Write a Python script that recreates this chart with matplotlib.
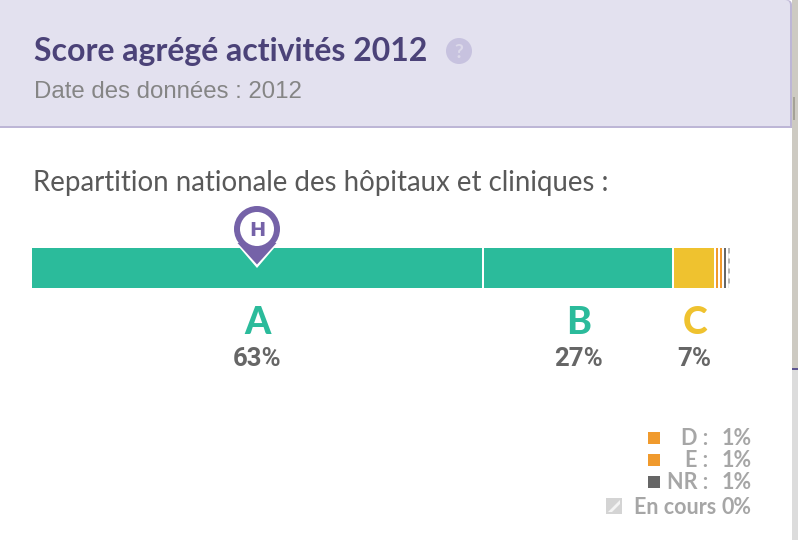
import matplotlib
matplotlib.use("Agg")
import matplotlib.pyplot as plt
from matplotlib.patches import Rectangle, Circle, Polygon, FancyBboxPatch

W, H = 798, 540

# ---- data ----
grades = ["A", "B", "C", "D", "E", "NR", "En cours"]
bar_widths = [64.57, 27.14, 6.0, 0.57, 0.57, 0.57, 0.58]
labels_main = ["A", "B", "C"]
labels_main_pct = ["63%", "27%", "7%"]
legend_names = ["D :", "E :", "NR :"]
legend_pct = ["1%", "1%", "1%"]
pending_name = "En cours"
pending_pct = "0%"

TEAL, YELLOW, ORANGE, DARK = "#2bbb9b", "#efc22f", "#f09a2d", "#666666"
PURPLE, GREY = "#4b4278", "#a6a6a6"
PIN = "#7562a8"
colors = [TEAL, TEAL, YELLOW, ORANGE, ORANGE, DARK, "#b8b8b8"]

fig = plt.figure(figsize=(W / 100, H / 100), dpi=100, facecolor="white")
bg = fig.add_axes([0, 0, 1, 1])
bg.set_xlim(0, W)
bg.set_ylim(H, 0)
bg.axis("off")
bg.set_zorder(5)
bg.patch.set_alpha(0)

def T(x, y, s, **kw):
    kw.setdefault("va", "center_baseline")
    return bg.text(x, y, s, **kw)

# panel backgrounds
bg.add_patch(Rectangle((792, 0), 6, H, color="#cdcac2", lw=0))
bg.add_patch(Rectangle((792, 368), 6, 2, color="#5d5590", lw=0))
bg.add_patch(Rectangle((792, 370), 6, 170, color="#dcdcdc", lw=0))
bg.add_patch(FancyBboxPatch((-10, 0), 802, 140, boxstyle="round,pad=0,rounding_size=5", color="#bdb6d6", lw=0))
bg.add_patch(Rectangle((0, 128), 792, 20, color="white", lw=0))
bg.add_patch(FancyBboxPatch((-10, 0), 800, 126, boxstyle="round,pad=0,rounding_size=5", color="#e3e1ef", lw=0))
bg.add_patch(Rectangle((0, 20), 790, 106, color="#e3e1ef", lw=0))
bg.add_patch(Rectangle((793, 97), 2, 23, color="#a5a297", lw=0))

# header
T(34, 49.5, "Score agrégé activités 2012", family="Lato", weight="bold", fontsize=23, color=PURPLE)
bg.add_patch(Circle((459, 51), 13, color="#c7c2df", lw=0))
T(459, 51.5, "?", family="Lato", weight="bold", fontsize=14, color="#dcd9ea", ha="center")
T(34, 90, "Date des données : 2012", family="Liberation Sans", fontsize=17.25, color="#858585")
T(33, 181, "Repartition nationale des hôpitaux et cliniques :", family="Lato", fontsize=19.93, color="#595959")

# stacked bar
ax = fig.add_axes([31 / W, 1 - 288 / H, 700 / W, 40 / H])
ax.set_xlim(0, 100)
ax.set_ylim(0, 1)
ax.axis("off")
left = 0
for name, w, c in zip(grades, bar_widths, colors):
    ax.barh(0.5, w, left=left, height=1, color=c, edgecolor="none")
    left += w
ax.axvline(0, color="white", lw=1.44)
left = 0
for w in bar_widths:
    left += w
    ax.axvline(left, color="white", lw=1.44)
ax.vlines(100 - bar_widths[-1] / 2, 0, 1, color="white", lw=1.8, linestyles=(0, (2, 2)))

# marker
mx = 257
bg.add_patch(Polygon([(233, 240), (281, 240), (257, 268)], closed=True, color="white", lw=0))
bg.add_patch(Polygon([(237.5, 243), (276.5, 243), (257, 264.5)], closed=True, color=PIN, lw=0))
bg.add_patch(Circle((mx, 229), 23, color=PIN, lw=0))
bg.add_patch(Circle((mx, 229), 17, color="white", lw=0))
T(mx, 229, "H", family="DejaVu Sans", weight="bold", fontsize=14, color=PIN, ha="center")

# main labels
for x, l, p, c in zip([258, 579, 695], labels_main, labels_main_pct, [TEAL, TEAL, YELLOW]):
    T(x, 320.5, l, family="Lato", weight="black", fontsize=27, color=c, ha="center")
    T(x - 0.5, 356, p, family="Roboto", weight="bold", fontsize=18.5, color="#666666", ha="center")

# legend
ys = [437, 459, 481]
for y, n, p, c in zip(ys, legend_names, legend_pct, [ORANGE, ORANGE, DARK]):
    bg.add_patch(Rectangle((648, y - 5.5), 12, 12, color=c, lw=0))
    T(708, y - 0.5, n, family="Lato", weight="bold", fontsize=15.5, color=GREY, ha="right")
    T(751.5, y - 0.5, p, family="Lato", weight="bold", fontsize=15.5, color=GREY, ha="right")
bg.add_patch(Rectangle((606, 498), 16, 16, color="#d4d4d4", lw=0))
bg.add_patch(Polygon([(608, 512), (620, 500), (620, 504), (612, 512)], closed=True, color="#f4f4f4", lw=0))
T(634, 506, pending_name, family="Lato", weight="bold", fontsize=15.5, color=GREY)
T(751.5, 506, pending_pct, family="Lato", weight="bold", fontsize=15.5, color=GREY, ha="right")

fig.savefig("out.png", dpi=100)
